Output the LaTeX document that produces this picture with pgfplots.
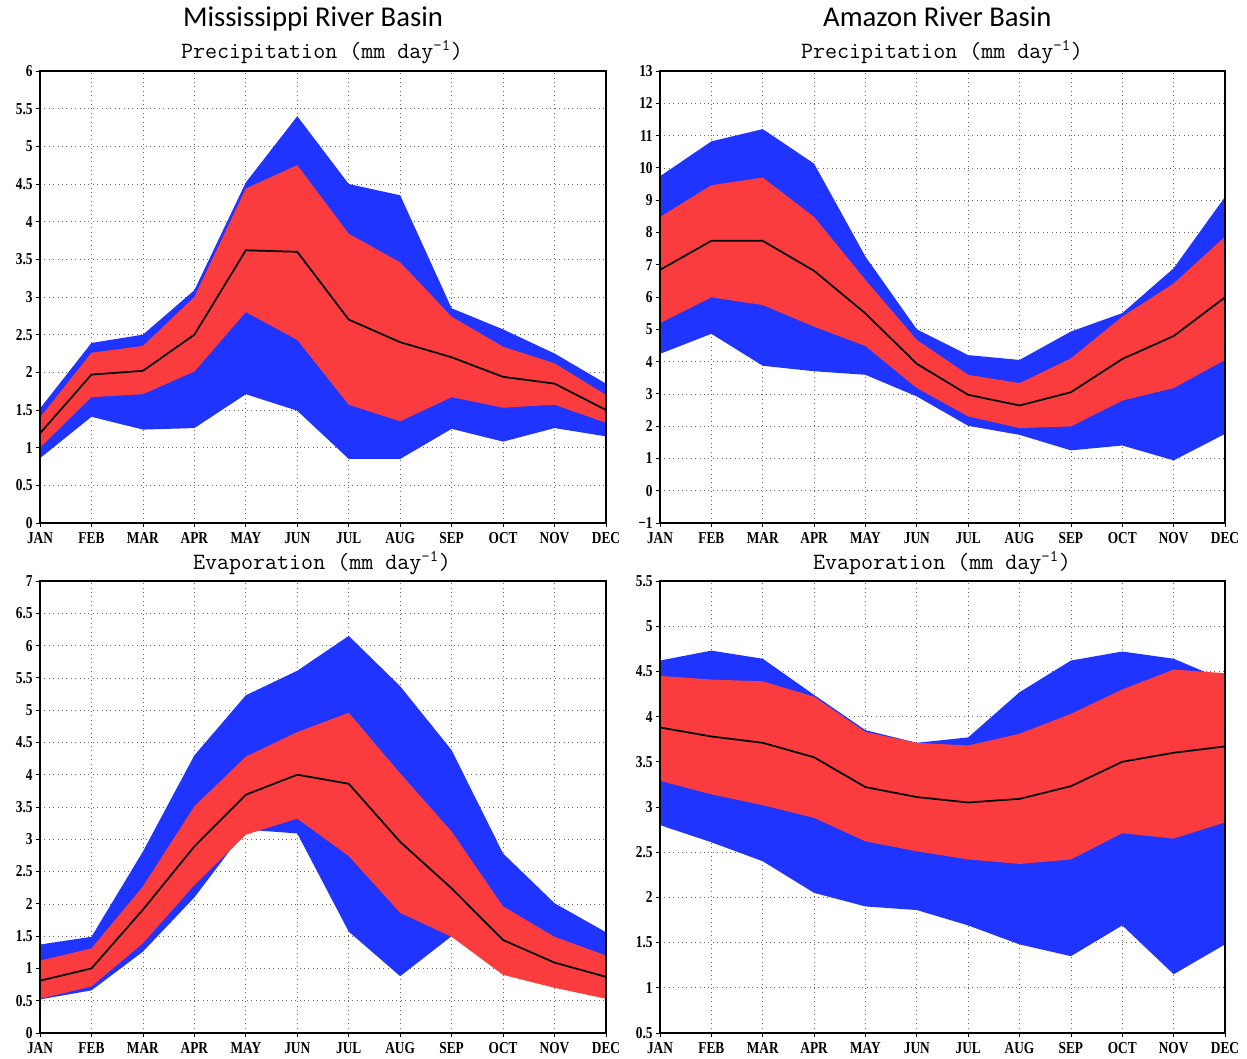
\documentclass[border=0pt]{standalone}
\usepackage{fontspec}
\setmainfont{Liberation Serif}
\newfontfamily\titlefont{Carlito}
\newfontfamily\tickfont[FakeStretch=0.8]{Liberation Serif}
\usepackage{pgfplots}
\pgfplotsset{compat=1.18}
\usepackage{pgfplotstable}
\usepgfplotslibrary{fillbetween}
\definecolor{bandblue}{RGB}{32,52,255}
\definecolor{bandred}{RGB}{250,60,62}

\pgfplotstableread{
m bu ru mn rl bl
0 1.52 1.40 1.19 1.00 0.86
1 2.39 2.26 1.97 1.67 1.41
2 2.50 2.35 2.02 1.71 1.24
3 3.09 3.00 2.50 2.01 1.26
4 4.52 4.44 3.62 2.80 1.71
5 5.40 4.75 3.60 2.43 1.49
6 4.50 3.84 2.70 1.57 0.85
7 4.35 3.46 2.40 1.35 0.85
8 2.85 2.74 2.20 1.67 1.25
9 2.57 2.34 1.94 1.53 1.08
10 2.25 2.12 1.85 1.57 1.26
11 1.85 1.70 1.50 1.33 1.15
}\mprec

\pgfplotstableread{
m bu ru mn rl bl
0 9.74 8.48 6.84 5.19 4.24
1 10.82 9.46 7.74 5.99 4.86
2 11.20 9.70 7.74 5.75 3.87
3 10.13 8.48 6.81 5.08 3.70
4 7.25 6.53 5.49 4.48 3.59
5 5.00 4.67 3.93 3.18 2.92
6 4.20 3.59 2.97 2.30 2.01
7 4.05 3.33 2.64 1.94 1.73
8 4.93 4.10 3.05 1.99 1.25
9 5.50 5.39 4.08 2.79 1.40
10 6.89 6.42 4.79 3.18 0.94
11 9.10 7.87 5.99 4.05 1.76
}\aprec

\pgfplotstableread{
m bu ru mn rl bl
0 1.37 1.12 0.81 0.53 0.52
1 1.49 1.31 1.00 0.72 0.66
2 2.81 2.27 1.91 1.39 1.26
3 4.30 3.51 2.89 2.29 2.10
4 5.23 4.28 3.69 3.07 3.15
5 5.61 4.66 4.00 3.32 3.09
6 6.15 4.96 3.86 2.74 1.57
7 5.37 4.02 2.96 1.86 0.88
8 4.38 3.12 2.24 1.49 1.50
9 2.78 1.96 1.44 0.90 0.95
10 2.01 1.49 1.09 0.70 0.75
11 1.56 1.20 0.87 0.53 0.55
}\mevap

\pgfplotstableread{
m bu ru mn rl bl
0 4.62 4.45 3.88 3.29 2.80
1 4.73 4.41 3.78 3.14 2.61
2 4.64 4.39 3.71 3.02 2.40
3 4.24 4.22 3.55 2.88 2.05
4 3.85 3.83 3.22 2.62 1.90
5 3.71 3.71 3.11 2.51 1.86
6 3.77 3.68 3.05 2.42 1.69
7 4.27 3.81 3.09 2.37 1.48
8 4.62 4.03 3.23 2.42 1.35
9 4.72 4.30 3.50 2.71 1.69
10 4.64 4.52 3.60 2.65 1.15
11 4.40 4.48 3.67 2.83 1.48
}\aevap

\pgfplotsset{
 panel/.style={
  scale only axis, height=339pt,
  anchor=south west,
  xmin=0, xmax=11, xtick={0,...,11},
  xticklabels={JAN,FEB,MAR,APR,MAY,JUN,JUL,AUG,SEP,OCT,NOV,DEC},
  grid=major,
  major grid style={black!60, line width=0.5pt, dash pattern=on 0.7pt off 2.6pt},
  tick align=outside, xtick pos=bottom, ytick pos=left,
  major tick length=3pt,
  tick style={black, line width=0.6pt},
  axis line style={line width=0.8pt},
  ticklabel style={font=\tickfont\bfseries\fontsize{12.5}{13}\selectfont},
  xticklabel style={yshift=-0.5pt},
  yticklabel style={xshift=1pt},
  /pgf/number format/assume math mode=true,
 },
}

\newcommand{\bands}[1]{%
 \addplot[name path=bu, draw=none] table[x=m,y=bu]{#1};
 \addplot[name path=bl, draw=none] table[x=m,y=bl]{#1};
 \addplot[fill=bandblue, draw=none] fill between[of=bu and bl];
 \addplot[name path=ru, draw=none] table[x=m,y=ru]{#1};
 \addplot[name path=rl, draw=none] table[x=m,y=rl]{#1};
 \addplot[fill=bandred, draw=none] fill between[of=ru and rl];
 \addplot[black, line width=1.3pt] table[x=m,y=mn]{#1};
}

\begin{document}
\begin{tikzpicture}
\path (0,0) rectangle (935.25pt,792.75pt);

\node[anchor=base, font=\titlefont\fontsize{21.5}{24}\selectfont] at (234.75pt,772.5pt) {Mississippi River Basin};
\node[anchor=base, font=\titlefont\fontsize{21.5}{24}\selectfont] at (703pt,772.5pt) {Amazon River Basin};
\node[anchor=base, font=\ttfamily\fontsize{17.5}{20}\selectfont] at (241.5pt,748.5pt) {Precipitation (mm day\textsuperscript{-1})};
\node[anchor=base, font=\ttfamily\fontsize{17.5}{20}\selectfont] at (706.5pt,748.5pt) {Precipitation (mm day\textsuperscript{-1})};
\node[anchor=base, font=\ttfamily\fontsize{17.5}{20}\selectfont] at (241.5pt,365.25pt) {Evaporation (mm day\textsuperscript{-1})};
\node[anchor=base, font=\ttfamily\fontsize{17.5}{20}\selectfont] at (706.5pt,365.25pt) {Evaporation (mm day\textsuperscript{-1})};

\begin{axis}[panel, at={(30pt,400.5pt)}, width=424.5pt,
  ymin=0, ymax=6, ytick={0,0.5,...,6}]
\bands{\mprec}
\end{axis}

\begin{axis}[panel, at={(495pt,400.5pt)}, width=423.75pt,
  ymin=-1, ymax=13, ytick={-1,0,...,13},
  yticklabels={−1,0,1,2,3,4,5,6,7,8,9,10,11,12,13}]
\bands{\aprec}
\end{axis}

\begin{axis}[panel, at={(30pt,18pt)}, width=424.5pt,
  ymin=0, ymax=7, ytick={0,0.5,...,7}]
\bands{\mevap}
\end{axis}

\begin{axis}[panel, at={(495pt,18pt)}, width=423.75pt,
  ymin=0.5, ymax=5.5, ytick={0.5,1,...,5.5}]
\bands{\aevap}
\end{axis}

\draw[line width=0.8pt] (30pt,400.5pt) rectangle ++(424.5pt,339pt);
\draw[line width=0.8pt] (495pt,400.5pt) rectangle ++(423.75pt,339pt);
\draw[line width=0.8pt] (30pt,18pt) rectangle ++(424.5pt,339pt);
\draw[line width=0.8pt] (495pt,18pt) rectangle ++(423.75pt,339pt);
\end{tikzpicture}
\end{document}
